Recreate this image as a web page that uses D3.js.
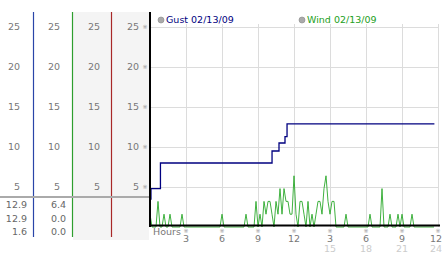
<!DOCTYPE html>
<html>
<head>
<meta charset="utf-8">
<script src="https://cdn.jsdelivr.net/npm/d3@7"></script>
<style>
  body { margin: 0; background: #fff; }
  text { font-family: "DejaVu Sans", Verdana, sans-serif; }
</style>
</head>
<body>
<div id="chart"></div>
<script>
// y tick values shared by the four left columns and the plot
var yTicks = [5, 10, 15, 20, 25];

// bottom axis: hour of day, first row and second row
var hourTicks = [3, 6, 9, 12, 15, 18, 21, 24];
var hourLabels = ["3", "6", "9", "12", "3", "6", "9", "12"];
var hourLabels2 = ["", "", "", "", "15", "18", "21", "24"];

// gust (step line), change points in hours
var gustHours = [0, 0.08, 0.87, 10.17, 10.75, 11.25, 11.42, 23.7];
var gustValues = [3.5, 4.8, 8.0, 9.5, 10.5, 11.3, 12.9, 12.9];

// wind, one reading every 10 minutes (6 per row = 1 hour)
var windValues = [
  1.6, 0, 0, 0, 3.2, 0,
  0, 1.6, 0, 0, 1.6, 0,
  0, 0, 0, 0, 1.6, 0,
  0, 0, 0, 0, 0, 0,
  0, 0, 0, 0, 0, 0,
  0, 0, 0, 0, 0, 0,
  1.6, 0, 0, 0, 0, 0,
  0, 0, 0, 0, 0, 0,
  1.6, 0, 0, 0, 0, 3.2,
  0, 1.6, 0, 3.2, 1.6, 3.2,
  3.2, 1.6, 0, 3.2, 1.6, 4.8,
  1.6, 4.8, 3.2, 3.2, 1.6, 1.6,
  6.4, 1.6, 0, 3.2, 3.2, 1.6,
  0, 3.2, 0, 1.6, 0, 1.6,
  3.2, 3.2, 1.6, 4.8, 6.4, 3.2,
  1.6, 3.2, 3.2, 0, 0, 0,
  0, 0, 1.6, 0, 0, 0,
  0, 0, 0, 0, 0, 0,
  0, 0, 1.6, 0, 0, 0,
  0, 0, 4.8, 0, 0, 0,
  1.6, 0, 0, 0, 1.6, 0,
  1.6, 0, 0, 0, 0, 1.6,
  0, 0, 0, 0, 0, 0,
  0, 0, 0, 0, 0
];

// readout table under the left columns
var gustStats = ["12.9", "12.9", "1.6"];
var windStats = ["6.4", "0.0", "0.0"];

var legendItems = [
  {label: "Gust 02/13/09", color: "#000080", x: 161},
  {label: "Wind 02/13/09", color: "#22a022", x: 302}
];

var W = 442, H = 253;

var svg = d3.select("#chart").append("svg")
    .attr("width", W)
    .attr("height", H);

var x = d3.scaleLinear().domain([0, 24]).range([150, 438]);
var y = d3.scaleLinear().domain([0, 25]).range([227, 27]);

// ---- left columns ----
// grey backgrounds behind columns 3 and 4
svg.append("rect")
    .attr("x", 73).attr("y", 12)
    .attr("width", 76).attr("height", 228)
    .attr("fill", "#f4f4f4");

var colRight = [20, 60, 100, 139];
colRight.forEach(function(cx) {
  svg.append("g")
    .selectAll("text")
    .data(yTicks)
    .enter().append("text")
      .attr("x", cx)
      .attr("y", function(d) { return y(d); })
      .attr("dy", "0.35em")
      .attr("text-anchor", "end")
      .attr("fill", "#777")
      .style("font-size", "9.5px")
      .text(function(d) { return d; });
});

// column separators
var seps = [{x: 33.5, c: "#2a45a8"}, {x: 72.5, c: "#2e9e2e"}, {x: 111.5, c: "#a82828"}];
svg.selectAll(".sep")
  .data(seps)
  .enter().append("line")
    .attr("x1", function(d) { return d.x; })
    .attr("x2", function(d) { return d.x; })
    .attr("y1", 12)
    .attr("y2", 237)
    .attr("stroke", function(d) { return d.c; })
    .attr("stroke-width", 1.2);

// grey rule above the readouts
svg.append("line")
    .attr("x1", 0).attr("x2", 150)
    .attr("y1", 197).attr("y2", 197)
    .attr("stroke", "#aaa")
    .attr("stroke-width", 2);

svg.append("g").selectAll("text")
  .data(gustStats)
  .enter().append("text")
    .attr("x", 27)
    .attr("y", function(d, i) { return 205 + i * 13.5; })
    .attr("dy", "0.35em")
    .attr("text-anchor", "end")
    .attr("fill", "#666")
    .style("font-size", "9.5px")
    .text(function(d) { return d; });

svg.append("g").selectAll("text")
  .data(windStats)
  .enter().append("text")
    .attr("x", 66)
    .attr("y", function(d, i) { return 205 + i * 13.5; })
    .attr("dy", "0.35em")
    .attr("text-anchor", "end")
    .attr("fill", "#666")
    .style("font-size", "9.5px")
    .text(function(d) { return d; });

// ---- plot ----
// grid
svg.append("g").selectAll("line")
  .data(yTicks)
  .enter().append("line")
    .attr("x1", 150).attr("x2", 438)
    .attr("y1", function(d) { return y(d) + 0.5; })
    .attr("y2", function(d) { return y(d) + 0.5; })
    .attr("stroke", "#dcdcdc");

svg.append("g").selectAll("line")
  .data(hourTicks)
  .enter().append("line")
    .attr("x1", function(d) { return Math.round(x(d)) + 0.5; })
    .attr("x2", function(d) { return Math.round(x(d)) + 0.5; })
    .attr("y1", 24).attr("y2", y(0))
    .attr("stroke", "#dcdcdc");

// y tick marks
svg.append("g").selectAll("text")
  .data(yTicks)
  .enter().append("text")
    .attr("x", 145)
    .attr("y", function(d) { return y(d); })
    .attr("dy", "0.35em")
    .attr("text-anchor", "middle")
    .attr("fill", "#999")
    .style("font-size", "6px")
    .text("\u203B");

// wind
var windLine = d3.line()
    .x(function(d, i) { return x(i / 6); })
    .y(function(d) { return y(d); });

svg.append("path")
    .datum(windValues)
    .attr("fill", "none")
    .attr("stroke", "#2aa82a")
    .attr("stroke-width", 0.9)
    .attr("d", windLine);

// gust
var gustLine = d3.line()
    .x(function(d, i) { return x(gustHours[i]); })
    .y(function(d) { return y(d); })
    .curve(d3.curveStepAfter);

svg.append("path")
    .datum(gustValues)
    .attr("fill", "none")
    .attr("stroke", "#000080")
    .attr("stroke-width", 1.3)
    .attr("d", gustLine);

// axes lines
svg.append("line")
    .attr("x1", 150).attr("x2", 150)
    .attr("y1", 12).attr("y2", 227)
    .attr("stroke", "#000")
    .attr("stroke-width", 2);

svg.append("line")
    .attr("x1", 150).attr("x2", 440)
    .attr("y1", 225.5).attr("y2", 225.5)
    .attr("stroke", "#000")
    .attr("stroke-width", 2);

// bottom axis
svg.append("text")
    .attr("x", 153).attr("y", 232)
    .attr("dy", "0.35em")
    .attr("fill", "#777")
    .style("font-size", "9.5px")
    .text("Hours");

var xt = svg.append("g").selectAll("g")
  .data(hourTicks)
  .enter().append("g")
    .attr("transform", function(d) { return "translate(" + x(d) + ",0)"; });

xt.append("text")
    .attr("y", 231)
    .attr("dy", "0.35em")
    .attr("text-anchor", "middle")
    .attr("fill", "#999")
    .style("font-size", "6px")
    .text("\u203B");

// last tick labels sit against the right edge
function anchorFor(d, i) { return i === hourTicks.length - 1 ? "end" : "middle"; }
function dxFor(d, i) { return i === hourTicks.length - 1 ? 4 : 0; }

xt.append("text")
    .attr("y", 239)
    .attr("dx", dxFor)
    .attr("dy", "0.35em")
    .attr("text-anchor", anchorFor)
    .attr("fill", "#777")
    .style("font-size", "9.5px")
    .text(function(d, i) { return hourLabels[i]; });

xt.append("text")
    .attr("y", 249)
    .attr("dx", dxFor)
    .attr("dy", "0.35em")
    .attr("text-anchor", anchorFor)
    .attr("fill", "#ccc")
    .style("font-size", "9.5px")
    .text(function(d, i) { return hourLabels2[i]; });

// legend
var lg = svg.append("g").selectAll("g")
  .data(legendItems)
  .enter().append("g")
    .attr("transform", function(d) { return "translate(" + d.x + ",20)"; });

lg.append("circle")
    .attr("r", 3)
    .attr("fill", "#aaa")
    .attr("stroke", "#888")
    .attr("stroke-width", 0.6);

lg.append("text")
    .attr("x", 5)
    .attr("dy", "0.35em")
    .attr("fill", function(d) { return d.color; })
    .style("font-size", "9.5px")
    .text(function(d) { return d.label; });
</script>
</body>
</html>
